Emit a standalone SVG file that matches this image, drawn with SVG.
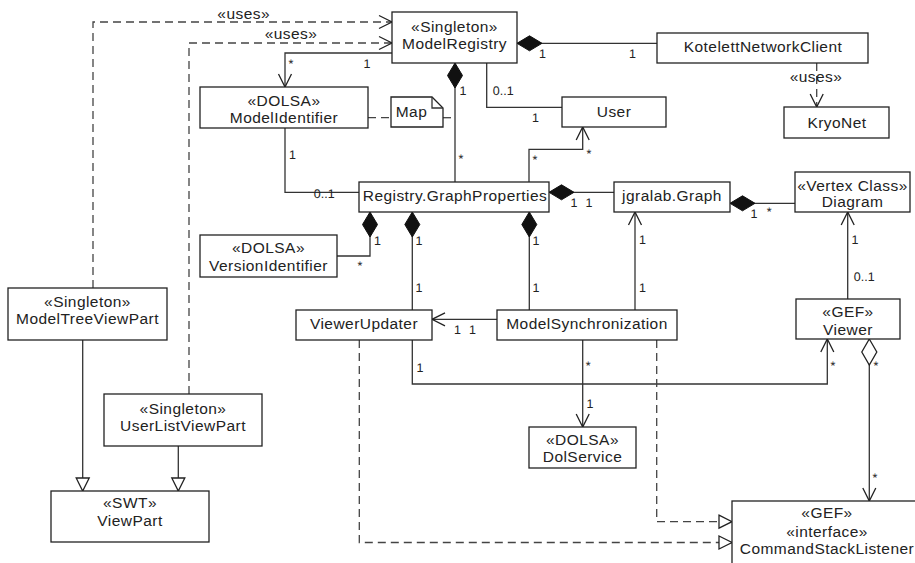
<svg xmlns="http://www.w3.org/2000/svg" width="915" height="563" viewBox="0 0 915 563">
  <style>
    .box { fill: #fff; stroke: #222; stroke-width: 1.3; }
    .ln { fill: none; stroke: #333; stroke-width: 1.3; }
    .dash { stroke: #444; stroke-dasharray: 8 5; }
    .t { font-family: "Liberation Sans", Arial, sans-serif; font-size: 15.5px; letter-spacing: 0.45px; fill: #222; text-anchor: middle; }
    .m { font-family: "Liberation Sans", Arial, sans-serif; font-size: 12.5px; fill: #222; text-anchor: middle; text-rendering: geometricPrecision; }
  </style>
  <defs>
    <!-- navigable association / dependency head -->
    <marker id="open" viewBox="-15 -9 17 18" refX="0" refY="0" markerWidth="17" markerHeight="18" orient="auto" markerUnits="userSpaceOnUse">
      <path d="M-13,-6.5 L0,0 L-13,6.5" fill="none" stroke="#222" stroke-width="1.3"/>
    </marker>
    <!-- generalization / realization head -->
    <marker id="tri" viewBox="-15 -9 17 18" refX="0" refY="0" markerWidth="17" markerHeight="18" orient="auto" markerUnits="userSpaceOnUse">
      <path d="M-13,-6.5 L0,0 L-13,6.5 Z" fill="#fff" stroke="#222" stroke-width="1.3"/>
    </marker>
    <!-- composition (filled) at the whole end -->
    <marker id="comp" viewBox="-2 -9 29 18" refX="0" refY="0" markerWidth="29" markerHeight="18" orient="auto" markerUnits="userSpaceOnUse">
      <path d="M0,0 L12.5,-7.5 L25,0 L12.5,7.5 Z" fill="#111" stroke="#111" stroke-width="1"/>
    </marker>
    <!-- aggregation (hollow) at the whole end -->
    <marker id="aggr" viewBox="-2 -9 29 18" refX="0" refY="0" markerWidth="29" markerHeight="18" orient="auto" markerUnits="userSpaceOnUse">
      <path d="M0,0 L13,-7.5 L26,0 L13,7.5 Z" fill="#fff" stroke="#222" stroke-width="1.3"/>
    </marker>
  </defs>

  <rect width="915" height="563" fill="#fff"/>

  <g id="connectors" opacity="0.999">
    <!-- uses dependencies to ModelRegistry -->
    <path class="ln dash" d="M93,288 V22 H392" marker-end="url(#open)"/>
    <path class="ln dash" d="M189,394 V43 H392" marker-end="url(#open)"/>
    <text class="t" x="243.7" y="18.5">«uses»</text>
    <text class="t" x="291" y="39.3">«uses»</text>

    <!-- ModelRegistry -> ModelIdentifier -->
    <path class="ln" d="M392,53 H285 V87" marker-end="url(#open)"/>
    <text class="m" x="367" y="67.5">1</text>
    <text class="m" x="291" y="68">*</text>

    <!-- Map note links -->
    <path class="ln dash" d="M368,117.7 H391"/>
    <path class="ln dash" d="M443,117.7 H455"/>

    <!-- ModelRegistry composes GraphProperties -->
    <path class="ln" d="M455,63 V182" marker-start="url(#comp)"/>
    <text class="m" x="463" y="94.5">1</text>
    <text class="m" x="461" y="162.7">*</text>

    <!-- ModelIdentifier - GraphProperties -->
    <path class="ln" d="M285,128 V192.3 H359"/>
    <text class="m" x="292.5" y="158.5">1</text>
    <text class="m" x="324.3" y="197.5">0..1</text>

    <!-- ModelRegistry - User -->
    <path class="ln" d="M486.7,63 V107.3 H562"/>
    <text class="m" x="503.3" y="94.5">0..1</text>
    <text class="m" x="535.5" y="121.5">1</text>

    <!-- GraphProperties -> User -->
    <path class="ln" d="M529,182 V149.3 H582.7 V127" marker-end="url(#open)"/>
    <text class="m" x="535" y="163.7">*</text>
    <text class="m" x="589" y="158">*</text>

    <!-- GraphProperties composes jgralab.Graph -->
    <path class="ln" d="M549,192.3 H614" marker-start="url(#comp)"/>
    <text class="m" x="574" y="206.5">1</text>
    <text class="m" x="589" y="206.5">1</text>

    <!-- jgralab.Graph composes Diagram -->
    <path class="ln" d="M730,203.3 H795" marker-start="url(#comp)"/>
    <text class="m" x="754" y="217.8">1</text>
    <text class="m" x="769.3" y="216">*</text>

    <!-- Viewer -> Diagram -->
    <path class="ln" d="M847.7,299 V212" marker-end="url(#open)"/>
    <text class="m" x="855" y="243.8">1</text>
    <text class="m" x="864.3" y="281.2">0..1</text>

    <!-- ModelSynchronization -> jgralab.Graph -->
    <path class="ln" d="M635,310 V212" marker-end="url(#open)"/>
    <text class="m" x="642.5" y="243.8">1</text>
    <text class="m" x="642.5" y="291.8">1</text>

    <!-- GraphProperties composes ViewerUpdater -->
    <path class="ln" d="M412.3,212 V310" marker-start="url(#comp)"/>
    <text class="m" x="419" y="244.5">1</text>
    <text class="m" x="419" y="291.8">1</text>

    <!-- GraphProperties composes ModelSynchronization -->
    <path class="ln" d="M529.3,212 V310" marker-start="url(#comp)"/>
    <text class="m" x="536" y="244.5">1</text>
    <text class="m" x="536" y="291.8">1</text>

    <!-- GraphProperties composes VersionIdentifier -->
    <path class="ln" d="M370,212 V256 H337" marker-start="url(#comp)"/>
    <text class="m" x="377.5" y="244.5">1</text>
    <text class="m" x="360" y="269.7">*</text>

    <!-- ModelSynchronization -> ViewerUpdater -->
    <path class="ln" d="M497,319.3 H432" marker-end="url(#open)"/>
    <text class="m" x="457.5" y="333.8">1</text>
    <text class="m" x="472.5" y="333.8">1</text>

    <!-- ViewerUpdater -> Viewer -->
    <path class="ln" d="M412.3,340 V384 H827.3 V339" marker-end="url(#open)"/>
    <text class="m" x="420" y="371.8">1</text>
    <text class="m" x="833" y="370">*</text>

    <!-- Viewer aggregates CommandStackListener -->
    <path class="ln" d="M869.3,339 V501" marker-start="url(#aggr)" marker-end="url(#open)"/>
    <text class="m" x="876" y="370">*</text>
    <text class="m" x="875" y="482">*</text>

    <!-- ModelSynchronization -> DolService -->
    <path class="ln" d="M582.7,340 V427" marker-end="url(#open)"/>
    <text class="m" x="588.3" y="370.3">*</text>
    <text class="m" x="590" y="407.8">1</text>

    <!-- realizations of CommandStackListener -->
    <path class="ln dash" d="M656.7,340 V521.7 H732" marker-end="url(#tri)"/>
    <path class="ln dash" d="M359.3,340 V542.5 H732" marker-end="url(#tri)"/>

    <!-- generalizations to ViewPart -->
    <path class="ln" d="M82.7,340 V491" marker-end="url(#tri)"/>
    <path class="ln" d="M178.3,446 V491" marker-end="url(#tri)"/>

    <!-- ModelRegistry composes KotelettNetworkClient -->
    <path class="ln" d="M517,43.3 H657" marker-start="url(#comp)"/>
    <text class="m" x="542.5" y="57.8">1</text>
    <text class="m" x="632.5" y="57.5">1</text>

    <!-- KotelettNetworkClient uses KryoNet -->
    <path class="ln dash" d="M816.7,63 V107" marker-end="url(#open)"/>
    <text class="t" x="816" y="81.7">«uses»</text>
  </g>

  <g id="ModelRegistry">
    <rect class="box" x="392" y="12" width="125" height="51"/>
    <text class="t" x="454.5" y="31.5">«Singleton»</text>
    <text class="t" x="454.5" y="49">ModelRegistry</text>
  </g>
  <g id="ModelIdentifier">
    <rect class="box" x="200" y="87" width="168" height="41"/>
    <text class="t" x="284" y="105.5">«DOLSA»</text>
    <text class="t" x="284" y="122.5">ModelIdentifier</text>
  </g>
  <g id="Map">
    <path class="box" d="M391,97 H432 L443,108 V127 H391 Z"/>
    <path class="ln" d="M432,97 V108 H443" stroke="#222"/>
    <text class="t" x="411.5" y="117">Map</text>
  </g>
  <g id="User">
    <rect class="box" x="562" y="97" width="104" height="30"/>
    <text class="t" x="614" y="116.5">User</text>
  </g>
  <g id="KotelettNetworkClient">
    <rect class="box" x="657" y="33" width="211" height="30"/>
    <text class="t" x="763" y="52">KotelettNetworkClient</text>
  </g>
  <g id="KryoNet">
    <rect class="box" x="784" y="107" width="105" height="31"/>
    <text class="t" x="837" y="127.7">KryoNet</text>
  </g>
  <g id="GraphProperties">
    <rect class="box" x="359" y="182" width="190" height="30"/>
    <text class="t" x="455" y="200.5">Registry.GraphProperties</text>
  </g>
  <g id="JgralabGraph">
    <rect class="box" x="614" y="182" width="116" height="30"/>
    <text class="t" x="672" y="200.5">jgralab.Graph</text>
  </g>
  <g id="Diagram">
    <rect class="box" x="795" y="172" width="115" height="40"/>
    <text class="t" x="852.5" y="190.5">«Vertex Class»</text>
    <text class="t" x="852.5" y="207">Diagram</text>
  </g>
  <g id="VersionIdentifier">
    <rect class="box" x="200" y="235" width="137" height="42"/>
    <text class="t" x="268.5" y="253.3">«DOLSA»</text>
    <text class="t" x="268.5" y="270.7">VersionIdentifier</text>
  </g>
  <g id="ViewerUpdater">
    <rect class="box" x="296" y="310" width="136" height="30"/>
    <text class="t" x="364" y="328.5">ViewerUpdater</text>
  </g>
  <g id="ModelSynchronization">
    <rect class="box" x="497" y="310" width="180" height="30"/>
    <text class="t" x="587" y="328.5">ModelSynchronization</text>
  </g>
  <g id="Viewer">
    <rect class="box" x="796" y="299" width="104" height="40"/>
    <text class="t" x="848" y="317.3">«GEF»</text>
    <text class="t" x="848" y="335">Viewer</text>
  </g>
  <g id="DolService">
    <rect class="box" x="529" y="427" width="107" height="41"/>
    <text class="t" x="582.5" y="445">«DOLSA»</text>
    <text class="t" x="582.5" y="462.3">DolService</text>
  </g>
  <g id="ModelTreeViewPart">
    <rect class="box" x="8" y="288" width="159" height="52"/>
    <text class="t" x="87.5" y="307.3">«Singleton»</text>
    <text class="t" x="87.5" y="324.3">ModelTreeViewPart</text>
  </g>
  <g id="UserListViewPart">
    <rect class="box" x="104" y="394" width="158" height="52"/>
    <text class="t" x="183" y="414">«Singleton»</text>
    <text class="t" x="183" y="431">UserListViewPart</text>
  </g>
  <g id="ViewPart">
    <rect class="box" x="51" y="491" width="158" height="51"/>
    <text class="t" x="130" y="508.3">«SWT»</text>
    <text class="t" x="130" y="525.7">ViewPart</text>
  </g>
  <g id="CommandStackListener">
    <rect class="box" x="732" y="501" width="195" height="70"/>
    <text class="t" x="827" y="518.3">«GEF»</text>
    <text class="t" x="827" y="536.7">«interface»</text>
    <text class="t" x="827" y="554.3">CommandStackListener</text>
  </g>
</svg>
